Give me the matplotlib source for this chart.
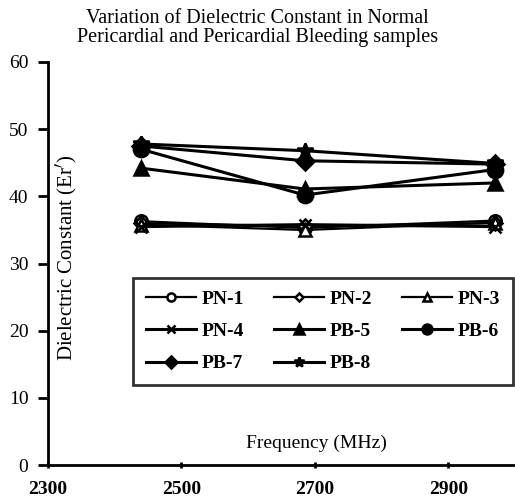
import matplotlib
matplotlib.use("Agg")
import matplotlib.pyplot as plt

plt.rcParams['font.family'] = ['Liberation Serif', 'DejaVu Serif']

freq = [2440, 2685, 2970]
labels = ["PN-1", "PN-2", "PN-3", "PN-4", "PB-5", "PB-6", "PB-7", "PB-8"]
pn1 = [36.3, 35.3, 36.4]
pn2 = [36.0, 35.6, 36.0]
pn3 = [35.8, 35.0, 36.1]
pn4 = [35.5, 35.8, 35.5]
pb5 = [44.2, 41.1, 42.0]
pb6 = [47.0, 40.2, 44.0]
pb7 = [47.5, 45.3, 44.8]
pb8 = [47.8, 46.8, 44.9]

series = [pn1, pn2, pn3, pn4, pb5, pb6, pb7, pb8]
# marker, filled, size, line width
styles = [("o", False, 9, 1.6), ("D", False, 7, 1.6), ("^", False, 9, 1.6),
          ("x", True, 9, 2.2), ("^", True, 10, 2.2), ("o", True, 11, 2.2),
          ("D", True, 9, 2.2), ("*", True, 12, 2.2)]

fig = plt.figure(figsize=(5.15, 5.04), dpi=100)
ax = fig.add_axes([0.093, 0.077, 0.907, 0.8])

lines = []
for vals, lab, (m, filled, ms, lw) in zip(series, labels, styles):
    ln, = ax.plot(freq, vals, color="black", lw=lw, marker=m, markersize=ms,
                  markerfacecolor="black" if filled else "white",
                  markeredgecolor="black", markeredgewidth=1.8, label=lab)
    lines.append(ln)

ax.set_xlim(2300, 3000)
ax.set_ylim(0, 60)
ax.set_xticks([2300, 2500, 2700, 2900])
ax.set_yticks(range(0, 61, 10))
for lbl in ax.get_xticklabels():
    lbl.set_fontweight("bold")
ax.tick_params(axis="x", labelsize=14, width=2, length=5, direction="inout", pad=9)
ax.tick_params(axis="y", labelsize=14, width=2, length=7, direction="out", pad=7)
for s in ["top", "right"]:
    ax.spines[s].set_visible(False)
for s in ["left", "bottom"]:
    ax.spines[s].set_linewidth(2)

ax.text(0.575, 0.055, "Frequency (MHz)", transform=ax.transAxes, ha="center",
        va="center", fontsize=14)
ax.text(0.04, 0.515, "Dielectric Constant (Er$'$)", transform=ax.transAxes,
        rotation=90, ha="center", va="center", fontsize=15)
fig.text(0.5, 0.944, "Variation of Dielectric Constant in Normal\nPericardial and Pericardial Bleeding samples",
         ha="center", va="center", fontsize=14.5, linespacing=1.0)

# legend fills row by row in the reference
order = [0, 3, 6, 1, 4, 7, 2, 5]
leg = ax.legend([lines[i] for i in order], [labels[i] for i in order],
                loc="lower left", bbox_to_anchor=(0.182, 0.199, 0.814, 0.255),
                mode="expand", ncol=3, prop={"size": 14, "weight": "bold"},
                frameon=True, fancybox=False,
                edgecolor="black", handlelength=2.6, handletextpad=0.3,
                markerscale=0.65, borderaxespad=0, labelspacing=0.75,
                columnspacing=0.6, borderpad=0.65)
leg.get_frame().set_linewidth(2)

fig.savefig("out.png", dpi=100)
